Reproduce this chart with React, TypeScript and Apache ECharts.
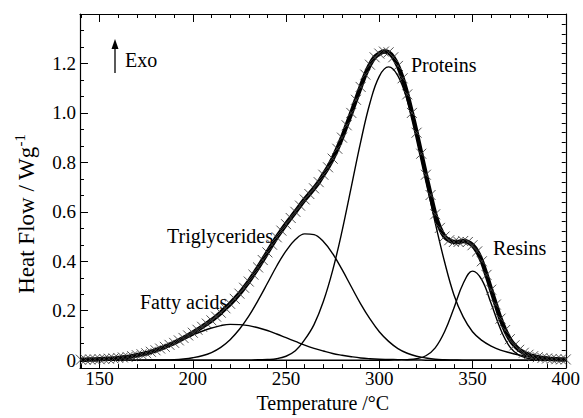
import { useEffect, useRef } from 'react';
import * as echarts from 'echarts';

const temperatures = [140, 145, 150, 155, 160, 165, 170, 175, 180, 185, 190, 195, 200, 205, 210, 215, 220, 225, 230, 235, 240, 245, 250, 255, 260, 265, 270, 275, 280, 285, 290, 295, 300, 305, 310, 315, 320, 325, 330, 335, 340, 345, 350, 355, 360, 365, 370, 375, 380, 385, 390, 395, 400];

const fattyAcids = [0.001, 0.002, 0.003, 0.005, 0.009, 0.013, 0.020, 0.028, 0.039, 0.053, 0.068, 0.085, 0.101, 0.117, 0.130, 0.140, 0.145, 0.144, 0.140, 0.131, 0.120, 0.106, 0.091, 0.076, 0.061, 0.048, 0.037, 0.027, 0.020, 0.014, 0.009, 0.006, 0.004, 0.003, 0.002, 0.001, 0.001, 0, 0, 0, 0, 0, 0, 0, 0, 0, 0, 0, 0, 0, 0, 0, 0];

const triglycerides = [0, 0, 0, 0, 0, 0, 0, 0, 0.001, 0.001, 0.002, 0.005, 0.010, 0.018, 0.031, 0.052, 0.083, 0.125, 0.178, 0.242, 0.311, 0.381, 0.442, 0.488, 0.511, 0.508, 0.480, 0.431, 0.367, 0.297, 0.228, 0.167, 0.115, 0.076, 0.047, 0.028, 0.016, 0.009, 0.004, 0.002, 0.001, 0, 0, 0, 0, 0, 0, 0, 0, 0, 0, 0, 0];

const proteins = [0, 0, 0, 0, 0, 0, 0, 0, 0, 0, 0, 0, 0, 0, 0, 0, 0, 0, 0, 0.002, 0.003, 0.006, 0.016, 0.038, 0.083, 0.144, 0.237, 0.363, 0.521, 0.701, 0.882, 1.040, 1.148, 1.186, 1.150, 1.051, 0.903, 0.730, 0.555, 0.398, 0.265, 0.175, 0.115, 0.080, 0.057, 0.041, 0.030, 0.021, 0.014, 0.009, 0.006, 0.004, 0.002];

const resins = [0, 0, 0, 0, 0, 0, 0, 0, 0, 0, 0, 0, 0, 0, 0, 0, 0, 0, 0, 0, 0, 0, 0, 0, 0, 0, 0, 0, 0, 0, 0, 0, 0, 0, 0.001, 0.002, 0.006, 0.018, 0.050, 0.115, 0.210, 0.310, 0.360, 0.325, 0.229, 0.126, 0.054, 0.020, 0.007, 0.002, 0.001, 0, 0];

const measuredTemps = [
  140, 142.5, 145, 147.5, 150, 152.5, 155, 157.5, 160, 162.5,
  165, 167.5, 170, 172.5, 175, 177.5, 180, 182.5, 185, 187.5,
  190, 192.5, 195, 197.5, 200, 202.5, 205, 207.5, 210, 212.5,
  215, 217.5, 220, 222.5, 225, 227.5, 230, 232.5, 235, 237.5,
  240, 242.5, 245, 247.5, 250, 252.5, 255, 257.5, 260, 262.5,
  265, 267.5, 270, 272.5, 275, 277.5, 280, 282.5, 285, 287.5,
  290, 292.5, 295, 297.5, 300, 302.5, 305, 307.5, 310, 312.5,
  315, 317.5, 320, 322.5, 325, 327.5, 330, 332.5, 335, 337.5,
  340, 342.5, 345, 347.5, 350, 352.5, 355, 357.5, 360, 362.5,
  365, 367.5, 370, 372.5, 375, 377.5, 380, 382.5, 385, 387.5,
  390, 392.5, 395, 397.5, 400,
];

const measured = [
  0.002, 0.002, 0.003, 0.003, 0.004, 0.005, 0.006, 0.007, 0.009, 0.011,
  0.013, 0.016, 0.020, 0.024, 0.028, 0.034, 0.040, 0.047, 0.054, 0.062,
  0.070, 0.080, 0.090, 0.100, 0.111, 0.123, 0.135, 0.148, 0.161, 0.176,
  0.192, 0.210, 0.228, 0.248, 0.269, 0.293, 0.318, 0.346, 0.375, 0.405,
  0.436, 0.467, 0.497, 0.524, 0.550, 0.575, 0.600, 0.625, 0.650, 0.672,
  0.695, 0.720, 0.750, 0.780, 0.815, 0.855, 0.900, 0.950, 1.000, 1.053,
  1.105, 1.155, 1.195, 1.225, 1.240, 1.248, 1.245, 1.225, 1.190, 1.140,
  1.075, 1.000, 0.920, 0.835, 0.750, 0.668, 0.590, 0.535, 0.500, 0.485,
  0.478, 0.478, 0.482, 0.478, 0.465, 0.440, 0.400, 0.345, 0.285, 0.225,
  0.168, 0.122, 0.085, 0.060, 0.042, 0.030, 0.022, 0.016, 0.012, 0.009,
  0.007, 0.005, 0.004, 0.003, 0.003,
];

const xMajorTicks = [150, 200, 250, 300, 350, 400];
const xMinorTicks = [140, 160, 170, 180, 190, 210, 220, 230, 240, 260, 270, 280, 290, 310, 320, 330, 340, 360, 370, 380, 390];
const yMajorTicks = [0, 0.2, 0.4, 0.6, 0.8, 1.0, 1.2];
const yMinorTicks = [0.0667, 0.1333, 0.2667, 0.3333, 0.4667, 0.5333, 0.6667, 0.7333, 0.8667, 0.9333, 1.0667, 1.1333, 1.2667, 1.3333];
const yRightTicks = [0.04, 0.08, 0.12, 0.16, 0.2, 0.24, 0.28, 0.32, 0.36, 0.4, 0.44, 0.48, 0.52, 0.56, 0.6, 0.64, 0.68, 0.72, 0.76, 0.8, 0.84, 0.88, 0.92, 0.96, 1.0, 1.04, 1.08, 1.12, 1.16, 1.2, 1.24, 1.28, 1.32, 1.36];

const SERIF = "'Liberation Serif', 'Times New Roman', serif";
const X_MIN = 139.5;
const X_MAX = 400;
const Y_MIN = -0.032;
const Y_MAX = 1.4;

function pairs(xs: number[], values: number[]) {
  return xs.map((t, i) => [t, values[i]]);
}

export default function App() {
  const ref = useRef<HTMLDivElement>(null);

  useEffect(() => {
    if (!ref.current) return;
    const chart = echarts.init(ref.current, null, { renderer: 'svg' });

    const black = '#000';
    const baseX = {
      type: 'value' as const,
      min: X_MIN,
      max: X_MAX,
      splitLine: { show: false },
    };
    const baseY = {
      type: 'value' as const,
      min: Y_MIN,
      max: Y_MAX,
      splitLine: { show: false },
    };

    const componentLine = (name: string, values: number[]) => ({
      name,
      type: 'line',
      data: pairs(temperatures, values),
      smooth: 0.4,
      showSymbol: false,
      symbol: 'none',
      lineStyle: { color: black, width: 1.4 },
      xAxisIndex: 0,
      yAxisIndex: 0,
      z: 3,
    });

    chart.setOption({
      animation: false,
      backgroundColor: '#fff',
      textStyle: { fontFamily: SERIF, color: black },
      grid: { left: 80, right: 16, top: 14, bottom: 44 },
      xAxis: [
        {
          ...baseX,
          position: 'bottom',
          axisLine: { onZero: false, lineStyle: { color: black, width: 1.2 } },
          axisTick: { inside: true, length: 8, customValues: xMajorTicks, lineStyle: { color: black, width: 1 } },
          axisLabel: { customValues: xMajorTicks, margin: 1, color: black, fontFamily: SERIF, fontSize: 19 },
          name: 'Temperature /°C',
          nameLocation: 'middle',
          nameGap: 16,
          nameTextStyle: { color: black, fontFamily: SERIF, fontSize: 20, verticalAlign: 'top' },
        },
        {
          ...baseX,
          position: 'bottom',
          axisLine: { show: false, onZero: false },
          axisTick: { inside: true, length: 4, customValues: xMinorTicks, lineStyle: { color: black, width: 1 } },
          axisLabel: { show: false },
        },
        {
          ...baseX,
          position: 'top',
          axisLine: { onZero: false, lineStyle: { color: black, width: 1.2 } },
          axisTick: { inside: true, length: 8, customValues: xMajorTicks, lineStyle: { color: black, width: 1 } },
          axisLabel: { show: false },
        },
        {
          ...baseX,
          position: 'top',
          axisLine: { show: false, onZero: false },
          axisTick: { inside: true, length: 4, customValues: xMinorTicks, lineStyle: { color: black, width: 1 } },
          axisLabel: { show: false },
        },
      ],
      yAxis: [
        {
          ...baseY,
          position: 'left',
          axisLine: { show: true, onZero: false, lineStyle: { color: black, width: 1.2 } },
          axisTick: { inside: true, length: 8, customValues: yMajorTicks, lineStyle: { color: black, width: 1 } },
          axisLabel: {
            customValues: yMajorTicks,
            margin: 4,
            color: black,
            fontFamily: SERIF,
            fontSize: 19,
            formatter: (v: number) => (Math.abs(v) < 1e-9 ? '0' : v.toFixed(1)),
          },
        },
        {
          ...baseY,
          position: 'left',
          axisLine: { show: false, onZero: false },
          axisTick: { inside: true, length: 4, customValues: yMinorTicks, lineStyle: { color: black, width: 1 } },
          axisLabel: { show: false },
        },
        {
          ...baseY,
          position: 'right',
          axisLine: { show: true, onZero: false, lineStyle: { color: black, width: 1.2 } },
          axisTick: { inside: true, length: 4, customValues: yRightTicks, lineStyle: { color: black, width: 1 } },
          axisLabel: { show: false },
        },
      ],
      series: [
        componentLine('Fatty acids', fattyAcids),
        componentLine('Triglycerides', triglycerides),
        componentLine('Proteins', proteins),
        componentLine('Resins', resins),
        {
          name: 'Measured',
          type: 'line',
          data: pairs(measuredTemps, measured),
          smooth: 0.3,
          showSymbol: true,
          showAllSymbol: true,
          symbol: 'path://M0 0L10 10M10 0L0 10',
          symbolSize: 10,
          itemStyle: { color: '#000', borderColor: '#404040', borderWidth: 0.9 },
          lineStyle: { color: black, width: 4.5 },
          xAxisIndex: 0,
          yAxisIndex: 0,
          z: 4,
        },
      ],
      graphic: [
        {
          type: 'text',
          x: 26,
          y: 214,
          rotation: Math.PI / 2,
          style: {
            text: 'Heat Flow / Wg{sup|-1}',
            fill: black,
            fontFamily: SERIF,
            fontSize: 23,
            align: 'center',
            verticalAlign: 'middle',
            rich: {
              sup: { fontFamily: SERIF, fontSize: 15, fill: black, padding: [0, 0, 12, 0] },
            },
          },
        },
        {
          type: 'line',
          shape: { x1: 115, y1: 73, x2: 115, y2: 46 },
          style: { stroke: black, lineWidth: 1.3 },
        },
        {
          type: 'polygon',
          shape: { points: [[111.5, 49], [118.5, 49], [115, 39]] },
          style: { fill: black },
        },
        {
          type: 'text',
          x: 125,
          y: 60,
          style: { text: 'Exo', fill: black, fontFamily: SERIF, fontSize: 20, verticalAlign: 'middle' },
        },
        {
          type: 'text',
          x: 411,
          y: 65,
          style: { text: 'Proteins', fill: black, fontFamily: SERIF, fontSize: 20, verticalAlign: 'middle' },
        },
        {
          type: 'text',
          x: 493,
          y: 248,
          style: { text: 'Resins', fill: black, fontFamily: SERIF, fontSize: 20, verticalAlign: 'middle' },
        },
        {
          type: 'text',
          x: 167,
          y: 236,
          style: { text: 'Triglycerides', fill: black, fontFamily: SERIF, fontSize: 20, verticalAlign: 'middle' },
        },
        {
          type: 'text',
          x: 140,
          y: 302,
          style: { text: 'Fatty acids', fill: black, fontFamily: SERIF, fontSize: 20, verticalAlign: 'middle' },
        },
      ],
    });

    return () => chart.dispose();
  }, []);

  return (
    <div
      ref={ref}
      style={{ position: 'absolute', left: 0, top: 0, width: 583, height: 418, background: '#fff' }}
    />
  );
}
